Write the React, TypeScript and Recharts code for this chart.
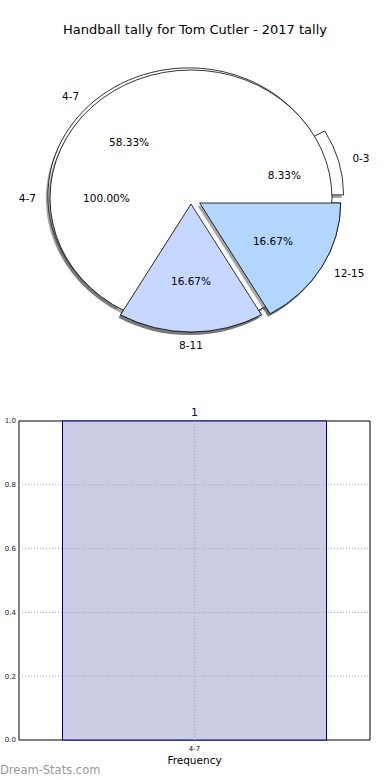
import { PieChart, Pie, Cell, BarChart, Bar, XAxis, YAxis, ReferenceLine, ReferenceArea, LabelList } from "recharts";

const sliceNames = ["0-3", "4-7", "8-11", "12-15"];
const sliceCounts = [1, 7, 2, 2];
const totalNames = ["4-7"];
const totalCounts = [1];
const barCategories = ["4-7"];
const barValues = [1];
const yTicks = [0, 0.2, 0.4, 0.6, 0.8, 1.0];

const sliceColors = ["#ffffff", "#ffffff", "#c6d8ff", "#b3d6ff"];
const sliceExplode = [12, 3, 6, 10];
const RAD = Math.PI / 180;
const Y_SCALE = 128 / 141;
const FONT = "DejaVu Sans";

const sliceData = sliceNames.map((name, i) => ({ name, value: sliceCounts[i] }));
const totalData = totalNames.map((name, i) => ({ name, value: totalCounts[i] }));
const barData = barCategories.map((name, i) => ({ name, value: barValues[i] }));

function wedgePath(cx: number, cy: number, rx: number, ry: number, a0: number, a1: number) {
  const pt = (a: number) => [cx + rx * Math.cos(-a * RAD), cy + ry * Math.sin(-a * RAD)];
  if (Math.abs(a1 - a0) >= 359.99) {
    return `M${cx - rx},${cy} A${rx},${ry} 0 1 0 ${cx + rx},${cy} A${rx},${ry} 0 1 0 ${cx - rx},${cy} Z`;
  }
  const [x0, y0] = pt(a0);
  const [x1, y1] = pt(a1);
  const large = Math.abs(a1 - a0) > 180 ? 1 : 0;
  const sweep = a1 > a0 ? 0 : 1;
  return `M${cx},${cy} L${x0},${y0} A${rx},${ry} 0 ${large} ${sweep} ${x1},${y1} Z`;
}

function drawWedge(props: any, explode: number) {
  const { cx, cy, outerRadius, startAngle, endAngle, fill } = props;
  const mid = (startAngle + endAngle) / 2;
  const ox = cx + explode * Math.cos(-mid * RAD);
  const oy = cy + explode * Math.sin(-mid * RAD);
  const d = wedgePath(ox, oy, outerRadius, outerRadius * Y_SCALE, startAngle, endAngle);
  return (
    <g>
      <path d={d} transform="translate(-2,3)" fill="#4d4d4d" fillOpacity={0.5} stroke="none" />
      <path d={d} fill={fill} stroke="#000" strokeWidth={0.8} />
    </g>
  );
}

const sliceIndex = (props: any) => sliceNames.indexOf(props.name ?? props.payload?.name);

const backShape = (props: any) => drawWedge(props, sliceExplode[sliceIndex(props)] ?? 0);
const frontShape = (props: any) => {
  const i = sliceIndex(props);
  if (i < 2) return <g />;
  return drawWedge(props, sliceExplode[i]);
};
const totalShape = (props: any) => drawWedge(props, 0);

function labelAt(p: any, explode: number, name: string) {
  const mid = p.midAngle;
  const c = Math.cos(-mid * RAD);
  const s = Math.sin(-mid * RAD);
  const rx = p.outerRadius;
  const ry = p.outerRadius * Y_SCALE;
  const ox = p.cx + explode * c;
  const oy = p.cy + explode * s;
  const pct = (p.percent * 100).toFixed(2) + "%";
  return (
    <g fontFamily={FONT} fontSize={10.5} fill="#000">
      <text x={ox + 0.6 * rx * c} y={oy + 0.6 * ry * s} textAnchor="middle" dominantBaseline="central">
        {pct}
      </text>
      <text x={ox + 1.1 * rx * c} y={oy + 1.1 * ry * s} textAnchor={c > 0.001 ? "start" : c < -0.001 ? "end" : "middle"} dominantBaseline="central">
        {name}
      </text>
    </g>
  );
}

const sliceLabel = (p: any) => labelAt(p, sliceExplode[p.index], sliceNames[p.index]);
const totalLabel = (p: any) => labelAt(p, 0, totalNames[p.index]);

const gridStyle = { stroke: "#a8a8a8", strokeDasharray: "1 2", strokeWidth: 1 };

export default function App() {
  return (
    <div style={{ position: "absolute", left: 0, top: 0, width: 390, height: 780, background: "#fff", fontFamily: FONT }}>
      <div style={{ position: "absolute", top: 22, left: 0, width: 390, textAlign: "center", fontSize: 13, lineHeight: "15px" }}>
        Handball tally for Tom Cutler - 2017 tally
      </div>
      <div style={{ position: "absolute", top: 0, left: 0 }}>
        <PieChart width={390} height={400} margin={{ top: 0, right: 0, bottom: 0, left: 0 }}>
          <Pie data={sliceData} dataKey="value" nameKey="name" cx={191} cy={198} outerRadius={141} startAngle={0} endAngle={360}
            shape={backShape} activeShape={backShape} label={false} labelLine={false} isAnimationActive={false}>
            {sliceData.map((d, i) => <Cell key={d.name} fill={sliceColors[i]} />)}
          </Pie>
          <Pie data={totalData} dataKey="value" nameKey="name" cx={191} cy={198} outerRadius={141} startAngle={0} endAngle={360}
            shape={totalShape} activeShape={totalShape} label={totalLabel} labelLine={false} isAnimationActive={false}>
            {totalData.map((d) => <Cell key={d.name} fill="#ffffff" />)}
          </Pie>
          <Pie data={sliceData} dataKey="value" nameKey="name" cx={191} cy={198} outerRadius={141} startAngle={0} endAngle={360}
            shape={frontShape} activeShape={frontShape} label={sliceLabel} labelLine={false} isAnimationActive={false}>
            {sliceData.map((d, i) => <Cell key={d.name} fill={sliceColors[i]} />)}
          </Pie>
        </PieChart>
      </div>
      <div style={{ position: "absolute", top: 400, left: 0 }}>
        <BarChart width={390} height={380} data={barData} margin={{ top: 21, right: 20, left: 0, bottom: 0 }} barCategoryGap="12.4%">
          <XAxis dataKey="name" height={40} tick={{ fontSize: 7, fill: "#000", fontFamily: FONT }} tickLine={false} tickSize={0} tickMargin={6}
            axisLine={false}
            label={{ value: "Frequency", position: "insideBottom", offset: 16, fontSize: 10.5, fill: "#000", fontFamily: FONT }} />
          <YAxis domain={[0, 1]} ticks={yTicks} width={19} tick={{ fontSize: 7, fill: "#222", fontFamily: FONT }} tickFormatter={(v: number) => v.toFixed(1)}
            tickLine={false} tickSize={0} tickMargin={3} axisLine={false} />
          <Bar dataKey="value" fill="#cccce5" stroke="#000080" strokeWidth={1} isAnimationActive={false}>
            <LabelList dataKey="value" position="top" fill="#000080" fontSize={11} fontFamily={FONT} />
          </Bar>
          {yTicks.slice(1, -1).map((t) => <ReferenceLine key={t} y={t} {...gridStyle} />)}
          {barCategories.map((c) => <ReferenceLine key={c} x={c} {...gridStyle} />)}
          <ReferenceArea y1={0} y2={1} fill="none" stroke="#000" strokeWidth={1} fillOpacity={0} />
        </BarChart>
      </div>
      <div style={{ position: "absolute", top: 763, left: 0, fontSize: 11.5, color: "#999", lineHeight: "14px" }}>
        Dream-Stats.com
      </div>
    </div>
  );
}
